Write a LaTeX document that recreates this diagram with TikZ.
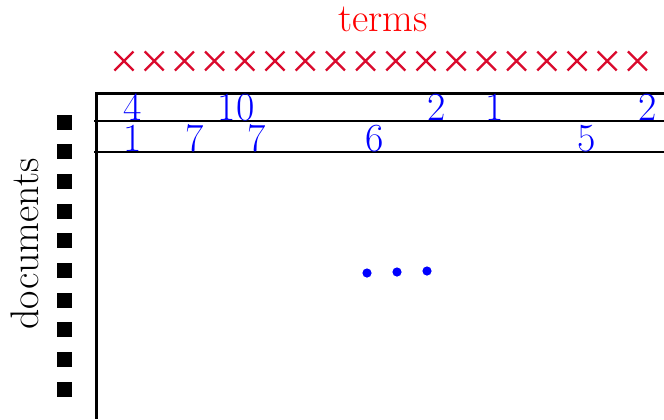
\documentclass[tikz,border=0pt]{standalone}
\usepackage{fontspec}
\definecolor{termred}{RGB}{255,0,0}
\definecolor{crossred}{RGB}{218,10,45}
\definecolor{numblue}{RGB}{0,0,255}
\begin{document}
\begin{tikzpicture}[x=1bp,y=-1bp,
  bigtext/.style={inner sep=0pt,font=\fontsize{40}{48}\selectfont},
  num/.style={bigtext,text=numblue,anchor=base,text depth=0pt,text height=20bp},
  termcross/.style={draw=crossred,line width=2.3pt},
  docbox/.style={fill=black,minimum size=15bp,inner sep=0pt,draw=none},
  frame/.style={line width=3bp},
  rowline/.style={line width=1.3bp}]
\useasboundingbox (0,0) rectangle (664,419);

% heading over the columns
\node[bigtext,text=termred] (terms) at (383,19) {terms};

% one cross per term
\foreach \i in {0,...,17}{
  \coordinate (c\i) at ({124+30.2*\i},61);
  \draw[termcross] ([shift={(-9.5,-9.5)}]c\i) -- ([shift={(9.5,9.5)}]c\i)
                   ([shift={(-9.5,9.5)}]c\i) -- ([shift={(9.5,-9.5)}]c\i);
}

% matrix frame and row separators
\coordinate (tl) at (96,93);
\coordinate (tr) at (664,93);
\coordinate (bl) at (96,419);
\coordinate (r1l) at (94,121);
\coordinate (r1r) at (664,121);
\coordinate (r2l) at (94,152);
\coordinate (r2r) at (664,152);
\draw[rowline] (r1l) -- (r1r);
\draw[rowline] (r2l) -- (r2r);
\draw[frame] (tr) -- (tl) -- (bl);

% first row counts
\node[num] (a1) at (133,120) {4};
\node[num] (a2) at (236,120) {10};
\node[num] (a3) at (437,120) {2};
\node[num] (a4) at (495,120) {1};
\node[num] (a5) at (648,120) {2};

% second row counts
\node[num] (b1) at (133,151) {1};
\node[num] (b2) at (195,151) {7};
\node[num] (b3) at (257,151) {7};
\node[num] (b4) at (375,151) {6};
\node[num] (b5) at (587,151) {5};

% remaining rows elided
\fill[numblue] (367,273) circle (4.6) (397,272) circle (4.6) (427,271) circle (4.6);

% one square per document
\foreach \j in {0,...,9}{
  \node[docbox] (d\j) at (64.5,{122+29.7*\j}) {};
}
\node[bigtext,rotate=90] (docs) at (25,244) {documents};
\end{tikzpicture}
\end{document}
